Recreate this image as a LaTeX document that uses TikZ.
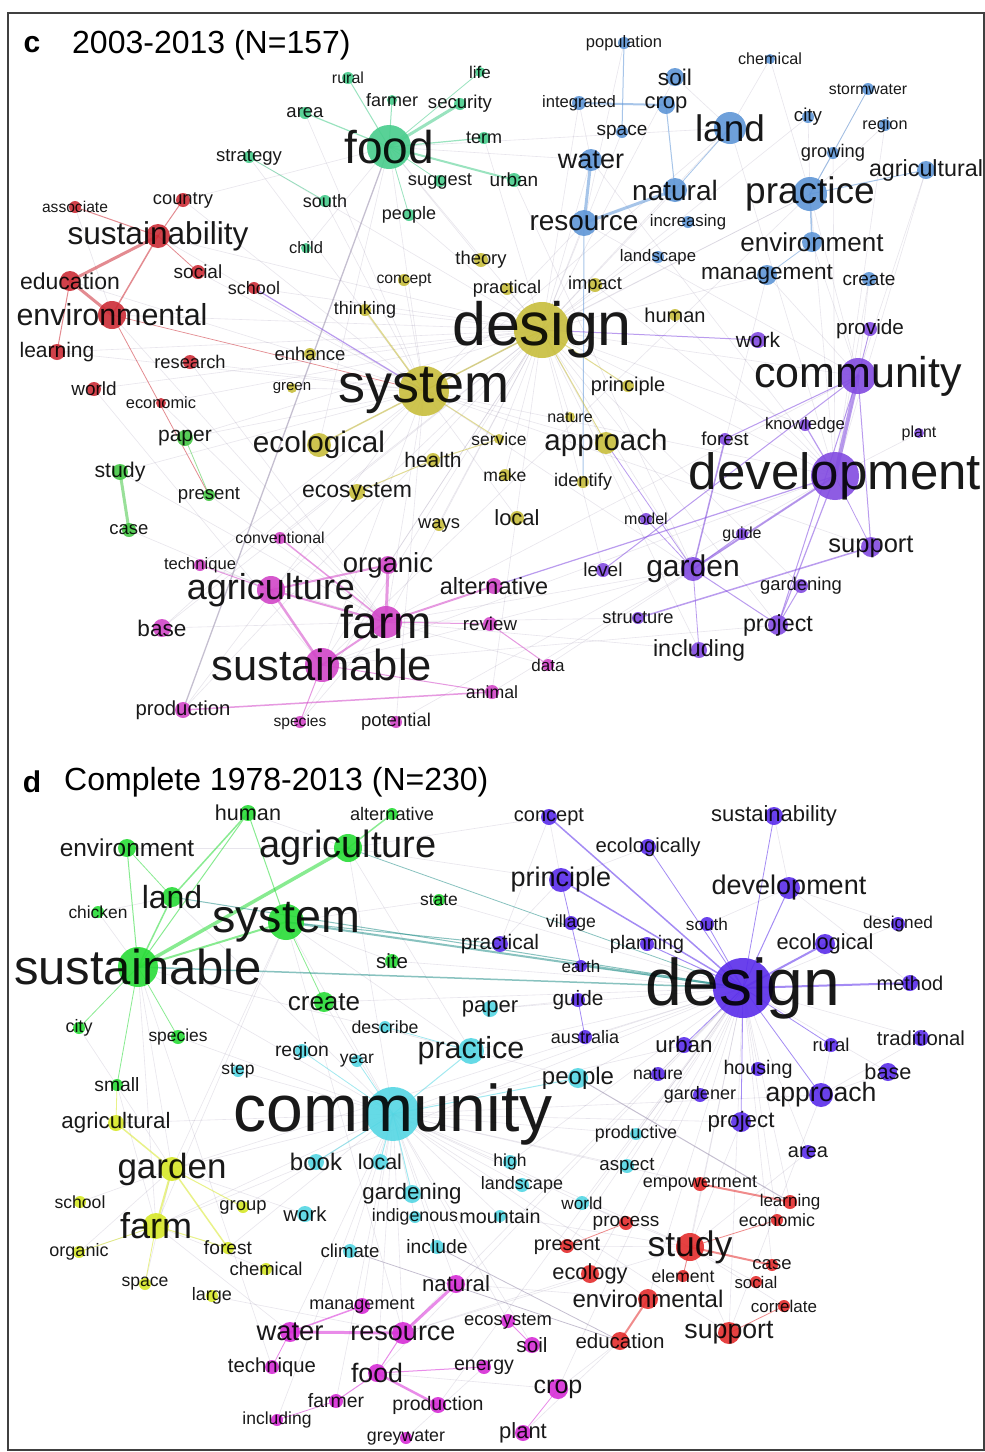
\documentclass[tikz,border=0pt]{standalone}
\usepackage{fontspec}
\setmainfont{Liberation Sans}
\pgfdeclarelayer{bg}
\pgfsetlayers{bg,main}
\definecolor{kTG}{RGB}{72,205,140}
\definecolor{kTR}{RGB}{205,45,55}
\definecolor{kTL}{RGB}{70,200,70}
\definecolor{kTY}{RGB}{200,190,60}
\definecolor{kTM}{RGB}{210,70,200}
\definecolor{kTB}{RGB}{95,150,215}
\definecolor{kTP}{RGB}{130,75,225}
\definecolor{kBG}{RGB}{40,220,55}
\definecolor{kBL}{RGB}{215,232,40}
\definecolor{kBC}{RGB}{85,215,228}
\definecolor{kBV}{RGB}{90,45,235}
\definecolor{kBR}{RGB}{228,45,45}
\definecolor{kBM}{RGB}{215,45,215}
\definecolor{kTeal}{RGB}{40,145,140}
\definecolor{kEdge}{RGB}{150,140,170}
\tikzset{
 dot/.style={circle,inner sep=0pt,draw=none,fill opacity=0.9},
 lbl/.style={inner sep=0pt,text=black,text opacity=0.9},
 edge/.style={opacity=0.55,line cap=round},
 faint/.style={draw=kEdge,opacity=0.22,line width=0.6pt},
 frame/.style={draw=black!75,line width=1.6pt},
 ttl/.style={inner sep=0pt,text=black}
}
\newcommand\wrd[7]{\node[dot,fill=#5,minimum size={2*#6pt}] (#1) at (#2,#3) {};\node[lbl,font=\fontsize{#4}{#4}\selectfont] (#1-t) at (#2,#3) {#7};}
\newcommand\ed[4]{\draw[edge,draw=#3,line width=#4pt] (#1.center) -- (#2.center);}
\begin{document}
\begin{tikzpicture}[x=1pt,y=-1pt]
\useasboundingbox (0,0) rectangle (985,1452);
\begin{pgfonlayer}{bg}
\fill[white] (0,0) rectangle (985,1452);
\end{pgfonlayer}
\draw[frame] (8,13) rectangle (984,1450);
% ---------- panel c ----------
\node[ttl,font=\bfseries\fontsize{30}{30}\selectfont] (clet) at (32,45) {c};
\node[ttl,anchor=west,font=\fontsize{32}{32}\selectfont] (ctitle) at (72,45) {2003-2013 (N=157)};
% green
\wrd{crural}{348}{78}{16}{kTG}{6}{rural}
\wrd{clife}{480}{72}{17}{kTG}{5}{life}
\wrd{cfarmer}{392}{100}{18}{kTG}{5}{farmer}
\wrd{csecurity}{460}{104}{18.6}{kTG}{6}{security}
\wrd{carea}{305}{113}{18.5}{kTG}{6}{area}
\wrd{cfood}{389}{147}{46}{kTG}{22}{food}
\wrd{cterm}{484}{138}{18}{kTG}{6}{term}
\wrd{cstrategy}{249}{157}{18.5}{kTG}{6}{strategy}
\wrd{csuggest}{440}{181}{18.3}{kTG}{6}{suggest}
\wrd{curban}{514}{180}{19}{kTG}{7}{urban}
\wrd{csouth}{325}{201}{18}{kTG}{6}{south}
\wrd{cpeople}{409}{215}{18}{kTG}{6}{people}
\wrd{cchild}{306}{248}{16.5}{kTG}{5}{child}
% red
\wrd{cassociate}{75}{207}{15.6}{kTR}{6}{associate}
\wrd{ccountry}{183}{200}{18.3}{kTR}{7}{country}
\wrd{csustainability}{158}{236}{31.6}{kTR}{12}{sustainability}
\wrd{csocial}{198}{272}{19}{kTR}{7}{social}
\wrd{cschool}{254}{288}{18}{kTR}{6}{school}
\wrd{ceducation}{70}{281}{23}{kTR}{10}{education}
\wrd{cenvironmental}{112}{315}{30.4}{kTR}{14}{environmental}
\wrd{clearning}{57}{352}{21}{kTR}{8}{learning}
\wrd{cresearch}{190}{362}{18.3}{kTR}{7}{research}
\wrd{cworld}{94}{389}{19}{kTR}{7}{world}
\wrd{ceconomic}{161}{403}{16.4}{kTR}{5}{economic}
% light green
\wrd{cpaper}{185}{438}{21}{kTL}{8}{paper}
\wrd{cstudy}{120}{472}{21.3}{kTL}{8}{study}
\wrd{cpresent}{209}{495}{18.6}{kTL}{6}{present}
\wrd{ccase}{129}{530}{18.5}{kTL}{7}{case}
% yellow
\wrd{ctheory}{481}{260}{18.4}{kTY}{7}{theory}
\wrd{cconcept}{404}{280}{15.7}{kTY}{6}{concept}
\wrd{cpractical}{507}{289}{18.3}{kTY}{6}{practical}
\wrd{cimpact}{595}{285}{18.3}{kTY}{7}{impact}
\wrd{cthinking}{365}{310}{18}{kTY}{6}{thinking}
\wrd{cdesign}{542}{330}{61}{kTY}{28}{design}
\wrd{chuman}{675}{315}{20}{kTY}{6}{human}
\wrd{cenhance}{310}{354}{18.5}{kTY}{6}{enhance}
\wrd{cgreen}{292}{388}{15}{kTY}{5}{green}
\wrd{csystem}{424}{391}{54}{kTY}{25}{system}
\wrd{cprinciple}{628}{386}{20}{kTY}{6}{principle}
\wrd{cnature}{570}{417}{16}{kTY}{5}{nature}
\wrd{cservice}{499}{439}{17.4}{kTY}{5}{service}
\wrd{cecological}{319}{445}{29.7}{kTY}{12}{ecological}
\wrd{capproach}{606}{443}{29.5}{kTY}{11}{approach}
\wrd{chealth}{433}{460}{21}{kTY}{7}{health}
\wrd{cmake}{505}{475}{17.6}{kTY}{6}{make}
\wrd{cidentify}{583}{482}{18.3}{kTY}{6}{identify}
\wrd{cecosystem}{357}{492}{23}{kTY}{8}{ecosystem}
\wrd{cways}{439}{525}{18.4}{kTY}{6}{ways}
\wrd{clocal}{517}{518}{22}{kTY}{7}{local}
% magenta
\wrd{cconventional}{280}{538}{15.9}{kTM}{6}{conventional}
\wrd{ctechnique}{200}{565}{16.6}{kTM}{6}{technique}
\wrd{corganic}{388}{565}{27.5}{kTM}{9}{organic}
\wrd{cagriculture}{271}{590}{36}{kTM}{14}{agriculture}
\wrd{calternative}{494}{586}{23.5}{kTM}{8}{alternative}
\wrd{cbase}{162}{628}{22.6}{kTM}{9}{base}
\wrd{cfarm}{386}{622}{46}{kTM}{16}{farm}
\wrd{creview}{490}{624}{18.7}{kTM}{7}{review}
\wrd{csustainable}{322}{665}{43.5}{kTM}{17}{sustainable}
\wrd{cdata}{548}{665}{17}{kTM}{6}{data}
\wrd{canimal}{492}{692}{17.7}{kTM}{7}{animal}
\wrd{cproduction}{183}{710}{20.3}{kTM}{8}{production}
\wrd{cspecies}{300}{722}{15.6}{kTM}{6}{species}
\wrd{cpotential}{396}{722}{18.5}{kTM}{6}{potential}
% blue
\wrd{cpopulation}{624}{43}{16.5}{kTB}{6}{population}
\wrd{cchemical}{770}{59}{16.2}{kTB}{5}{chemical}
\wrd{csoil}{675}{77}{22.7}{kTB}{9}{soil}
\wrd{cstormwater}{868}{89}{15.8}{kTB}{6}{stormwater}
\wrd{cintegrated}{579}{103}{16.6}{kTB}{7}{integrated}
\wrd{ccrop}{666}{105}{22}{kTB}{9}{crop}
\wrd{ccity}{808}{117}{18.7}{kTB}{6}{city}
\wrd{cregion}{885}{125}{16.2}{kTB}{6}{region}
\wrd{cland}{730}{128}{37}{kTB}{16}{land}
\wrd{cspace}{622}{132}{19}{kTB}{6}{space}
\wrd{cwater}{591}{160}{27}{kTB}{11}{water}
\wrd{cgrowing}{833}{153}{18.3}{kTB}{6}{growing}
\wrd{cagricultural}{926}{170}{23.3}{kTB}{9}{agricultural}
\wrd{cnatural}{675}{190}{28}{kTB}{12}{natural}
\wrd{cpractice}{810}{194}{37}{kTB}{17}{practice}
\wrd{cresource}{584}{223}{28}{kTB}{13}{resource}
\wrd{cincreasing}{688}{222}{16.7}{kTB}{6}{increasing}
\wrd{cenvironment}{812}{242}{26}{kTB}{10}{environment}
\wrd{clandscape}{658}{257}{16.7}{kTB}{6}{landscape}
\wrd{cmanagement}{767}{275}{22.6}{kTB}{10}{management}
\wrd{ccreate}{869}{279}{19}{kTB}{7}{create}
% purple
\wrd{cprovide}{870}{329}{20.7}{kTP}{7}{provide}
\wrd{cwork}{758}{340}{21}{kTP}{8}{work}
\wrd{ccommunity}{858}{376}{43}{kTP}{18}{community}
\wrd{cknowledge}{805}{425}{16.7}{kTP}{6}{knowledge}
\wrd{cforest}{725}{439}{18.8}{kTP}{6}{forest}
\wrd{cplant}{919}{433}{16}{kTP}{5}{plant}
\wrd{cdevelopment}{835}{476}{51}{kTP}{24}{development}
\wrd{cmodel}{646}{519}{16}{kTP}{6}{model}
\wrd{cguide}{742}{534}{16}{kTP}{6}{guide}
\wrd{csupport}{871}{547}{25.5}{kTP}{10}{support}
\wrd{clevel}{603}{570}{19}{kTP}{7}{level}
\wrd{cgarden}{693}{569}{30}{kTP}{12}{garden}
\wrd{cgardening}{801}{586}{18.4}{kTP}{7}{gardening}
\wrd{cstructure}{638}{618}{18.3}{kTP}{6}{structure}
\wrd{cproject}{778}{625}{23.3}{kTP}{10}{project}
\wrd{cincluding}{699}{650}{23.3}{kTP}{8}{including}
% ---------- panel d ----------
\node[ttl,font=\bfseries\fontsize{30}{30}\selectfont] (dlet) at (32,782) {d};
\node[ttl,anchor=west,font=\fontsize{32}{32}\selectfont] (dtitle) at (64,782) {Complete 1978-2013 (N=230)};
% green
\wrd{dhuman}{248}{813}{21.6}{kBG}{8}{human}
\wrd{dalternative}{392}{814}{18.2}{kBG}{6}{alternative}
\wrd{denvironment}{127}{848}{24.4}{kBG}{9}{environment}
\wrd{dagriculture}{348}{848}{38}{kBG}{14}{agriculture}
\wrd{dland}{172}{897}{32}{kBG}{10}{land}
\wrd{dchicken}{98}{912}{17.4}{kBG}{6}{chicken}
\wrd{dstate}{439}{900}{17.5}{kBG}{6}{state}
\wrd{dsystem}{286}{922}{46.7}{kBG}{18}{system}
\wrd{dsustainable}{138}{967}{49}{kBG}{20}{sustainable}
\wrd{dsite}{392}{961}{20.5}{kBG}{7}{site}
\wrd{dcreate}{324}{1002}{26}{kBG}{10}{create}
\wrd{dcity}{79}{1028}{18}{kBG}{6}{city}
\wrd{dspecies}{178}{1037}{17.4}{kBG}{7}{species}
\wrd{dsmall}{117}{1085}{19.3}{kBG}{6}{small}
% lime
\wrd{dagricultural}{116}{1123}{22.3}{kBL}{8}{agricultural}
\wrd{dgarden}{172}{1169}{35}{kBL}{12}{garden}
\wrd{dschool}{80}{1202}{17.6}{kBL}{6}{school}
\wrd{dgroup}{243}{1207}{18.4}{kBL}{6}{group}
\wrd{dfarm}{156}{1226}{36}{kBL}{13}{farm}
\wrd{dorganic}{79}{1252}{18}{kBL}{6}{organic}
\wrd{dforest}{228}{1248}{19.2}{kBL}{6}{forest}
\wrd{dchemical}{266}{1269}{18.5}{kBL}{6}{chemical}
\wrd{dspace}{145}{1284}{17.6}{kBL}{6}{space}
\wrd{dlarge}{212}{1296}{18}{kBL}{6}{large}
% cyan
\wrd{dpaper}{490}{1009}{22}{kBC}{8}{paper}
\wrd{ddescribe}{385}{1027}{17.7}{kBC}{6}{describe}
\wrd{dregion}{302}{1051}{19.4}{kBC}{7}{region}
\wrd{dyear}{357}{1061}{17.5}{kBC}{6}{year}
\wrd{dpractice}{471}{1051}{30.5}{kBC}{13}{practice}
\wrd{dpeople}{578}{1078}{24}{kBC}{10}{people}
\wrd{dstep}{238}{1071}{17.5}{kBC}{6}{step}
\wrd{dcommunity}{393}{1114}{66}{kBC}{27}{community}
\wrd{dproductive}{636}{1134}{17.8}{kBC}{6}{productive}
\wrd{dbook}{316}{1162}{24}{kBC}{8}{book}
\wrd{dlocal}{380}{1162}{21.4}{kBC}{8}{local}
\wrd{dhigh}{510}{1162}{17.5}{kBC}{7}{high}
\wrd{daspect}{627}{1166}{18.7}{kBC}{7}{aspect}
\wrd{dlandscape}{522}{1185}{18}{kBC}{7}{landscape}
\wrd{dgardening}{412}{1194}{22.3}{kBC}{9}{gardening}
\wrd{dworld}{582}{1203}{17.2}{kBC}{7}{world}
\wrd{dwork}{305}{1214}{20.4}{kBC}{8}{work}
\wrd{dindigenous}{415}{1217}{17.8}{kBC}{6}{indigenous}
\wrd{dmountain}{500}{1216}{19.7}{kBC}{6}{mountain}
\wrd{dclimate}{350}{1251}{18.6}{kBC}{7}{climate}
\wrd{dinclude}{437}{1247}{19.3}{kBC}{7}{include}
% violet
\wrd{dconcept}{549}{817}{20}{kBV}{8}{concept}
\wrd{dsustainability}{774}{816}{22}{kBV}{9}{sustainability}
\wrd{decologically}{648}{847}{20.3}{kBV}{8}{ecologically}
\wrd{dprinciple}{561}{880}{27}{kBV}{12}{principle}
\wrd{ddevelopment}{789}{888}{27}{kBV}{11}{development}
\wrd{dvillage}{571}{923}{17.6}{kBV}{7}{village}
\wrd{dsouth}{707}{924}{17.2}{kBV}{7}{south}
\wrd{ddesigned}{898}{924}{17.2}{kBV}{7}{designed}
\wrd{dpractical}{500}{944}{21}{kBV}{8}{practical}
\wrd{dplanning}{647}{944}{19.6}{kBV}{7}{planning}
\wrd{decological}{825}{944}{21.8}{kBV}{10}{ecological}
\wrd{dearth}{581}{966}{17}{kBV}{6}{earth}
\wrd{ddesign}{743}{988}{66}{kBV}{30}{design}
\wrd{dmethod}{910}{983}{20}{kBV}{8}{method}
\wrd{dguide}{578}{1000}{20.8}{kBV}{7}{guide}
\wrd{daustralia}{585}{1037}{18}{kBV}{7}{australia}
\wrd{durban}{684}{1045}{22.3}{kBV}{8}{urban}
\wrd{drural}{831}{1045}{18.5}{kBV}{7}{rural}
\wrd{dtraditional}{921}{1038}{20.3}{kBV}{8}{traditional}
\wrd{dhousing}{758}{1069}{19.7}{kBV}{7}{housing}
\wrd{dnature}{658}{1074}{17.6}{kBV}{7}{nature}
\wrd{dbase}{888}{1072}{21.7}{kBV}{9}{base}
\wrd{dgardener}{700}{1095}{18}{kBV}{7}{gardener}
\wrd{dapproach}{821}{1095}{26.6}{kBV}{12}{approach}
\wrd{dproject}{741}{1122}{22.3}{kBV}{10}{project}
\wrd{darea}{808}{1152}{20}{kBV}{7}{area}
% red
\wrd{dempowerment}{700}{1184}{18}{kBR}{7}{empowerment}
\wrd{dlearning}{790}{1202}{17}{kBR}{7}{learning}
\wrd{deconomic}{777}{1220}{17.8}{kBR}{6}{economic}
\wrd{dprocess}{626}{1223}{19}{kBR}{7}{process}
\wrd{dstudy}{690}{1247}{35.5}{kBR}{14}{study}
\wrd{dpresent}{567}{1246}{19.8}{kBR}{7}{present}
\wrd{dcase}{772}{1265}{18.5}{kBR}{6}{case}
\wrd{delement}{683}{1276}{17.7}{kBR}{6}{element}
\wrd{dsocial}{756}{1282}{16.8}{kBR}{6}{social}
\wrd{decology}{590}{1274}{21.8}{kBR}{9}{ecology}
\wrd{denvironmental}{648}{1299}{24}{kBR}{10}{environmental}
\wrd{dcorrelate}{784}{1306}{17}{kBR}{6}{correlate}
\wrd{deducation}{620}{1341}{20.5}{kBR}{9}{education}
\wrd{dsupport}{729}{1333}{26.7}{kBR}{11}{support}
% magenta
\wrd{dnatural}{456}{1284}{22.2}{kBM}{9}{natural}
\wrd{dmanagement}{362}{1306}{18}{kBM}{8}{management}
\wrd{decosystem}{508}{1321}{18.4}{kBM}{7}{ecosystem}
\wrd{dwater}{290}{1332}{27.4}{kBM}{10}{water}
\wrd{dresource}{403}{1333}{27}{kBM}{11}{resource}
\wrd{dsoil}{532}{1345}{20.7}{kBM}{8}{soil}
\wrd{dtechnique}{272}{1367}{20.3}{kBM}{7}{technique}
\wrd{dfood}{377}{1373}{26.7}{kBM}{9}{food}
\wrd{denergy}{484}{1367}{19.6}{kBM}{7}{energy}
\wrd{dcrop}{558}{1389}{25}{kBM}{10}{crop}
\wrd{dfarmer}{336}{1401}{19.4}{kBM}{7}{farmer}
\wrd{dproduction}{438}{1405}{19.5}{kBM}{8}{production}
\wrd{dincluding}{277}{1420}{17.5}{kBM}{6}{including}
\wrd{dgreywater}{406}{1438}{17.8}{kBM}{6}{greywater}
\wrd{dplant}{523}{1433}{22}{kBM}{8}{plant}
% ---------- edges ----------
\begin{pgfonlayer}{bg}
\foreach \a/\b in {cstrategy/cdesign,cfood/cdesign,cfood/csystem,cfood/cecological,cfood/ctheory,cfood/cchild,ccountry/cfood,csustainability/cdesign,csustainability/csystem,cenvironmental/cdesign,clearning/cdesign,cresearch/csystem,cworld/csustainable,ceconomic/cfarm,cbase/cfarm,cbase/cdesign,cproduction/cdesign,cagriculture/cdesign,csustainable/cdesign,csustainable/csystem,cfarm/csystem,cfarm/cdesign,corganic/cdesign,cdesign/ccommunity,cdesign/cdevelopment,cdesign/cpractice,cdesign/cland,cdesign/cmanagement,csystem/cpractice,csystem/cdevelopment,csystem/cland,csystem/cresource,cdesign/cresource,cdesign/cwater,ccommunity/cpractice,cdevelopment/cpractice,cdevelopment/cagricultural,ccommunity/cenvironment,ccommunity/cmanagement,cgarden/cdesign,cgarden/csystem,cgarden/csustainable,cgarden/cfarm,cincluding/cfarm,cproject/csustainable,cstructure/cfarm,clocal/csystem,cways/cdesign,cecological/cdesign,capproach/csystem,cdevelopment/csustainable,ccommunity/cfarm,cland/cfood,cwater/cfood,curban/cgarden,cdesign/cknowledge,cenhance/cdesign,cthinking/cdesign,cpotential/csystem,cspecies/cdesign,cdata/cdevelopment,canimal/cgarden,cchemical/cpractice,ccity/cdesign,cregion/cdevelopment,csoil/cdesign,cpopulation/cresource,cimpact/cdevelopment,chuman/cdevelopment,cpaper/cdesign,cstudy/csystem,ccase/cagriculture,cpresent/cfarm,cschool/cdesign,csocial/csystem,ceducation/csystem,cassociate/cenvironmental,carea/csystem,cterm/cdesign,cpeople/cdesign,csouth/csystem,cconcept/csystem,cpractical/cdesign,cgreen/csystem,cmake/cdesign,cnature/cdesign,cservice/cdesign,cprovide/cdevelopment,cplant/cdevelopment,ccreate/cdevelopment,cgrowing/cdevelopment,cstormwater/cpractice,clandscape/cdesign,cincreasing/cdesign,cintegrated/cdesign,cspace/cdesign,cgardening/cdesign,cmodel/cdesign,clevel/cdesign,cconventional/cdesign,ctechnique/csystem,cworld/cdesign,cresearch/cfarm,clearning/csystem,ceconomic/cdesign,cpaper/csystem,cstudy/cfarm,cenvironmental/cfarm,ccountry/csystem,cstrategy/csystem,cland/cdevelopment,cwater/cdevelopment,cresource/ccommunity,cnatural/cdesign,cpractice/csustainable,cmanagement/cgarden,ccreate/ccommunity,cagricultural/ccommunity,cregion/cpractice,ccity/cpractice,csoil/cland,cchemical/cland,cintegrated/cwater,csupport/csystem,cproject/cdesign,cincluding/cdesign,cpotential/cdevelopment,canimal/cdesign,cdata/cfarm,cspecies/cfarm,cproduction/csystem,cbase/csystem,ctechnique/cfarm}
  \draw[faint] (\a.center) -- (\b.center);
\foreach \a/\b in {dcommunity/ddesign,dcommunity/dsustainable,dcommunity/dsystem,dcommunity/dagriculture,dcommunity/dgarden,dcommunity/dfarm,dcommunity/dstudy,dcommunity/dsupport,dcommunity/dapproach,dcommunity/dproject,dcommunity/dresource,dcommunity/dwater,dcommunity/dfood,dcommunity/dnatural,dcommunity/denvironmental,dcommunity/durban,dcommunity/dcreate,dcommunity/dland,ddesign/dstudy,ddesign/denvironmental,ddesign/dsupport,ddesign/dresource,ddesign/dpractice,ddesign/dpeople,ddesign/dpaper,ddesign/dcreate,ddesign/dgarden,ddesign/dfarm,ddesign/dcrop,ddesign/dfood,dsystem/dgarden,dsystem/dfarm,dsystem/dpractice,dsystem/dresource,dsustainable/dfarm,dsustainable/dgarden,dsustainable/dpractice,dagriculture/dpractice,dagriculture/dprinciple,dagriculture/dconcept,dprinciple/dpractical,dconcept/dpractical,dpaper/dguide,dpractice/dpeople,dstudy/dsupport,dstudy/dpresent,dstudy/dproject,dstudy/darea,dapproach/dsupport,dresource/dstudy,dresource/decology,dnatural/denvironmental,dcrop/deducation,dplant/deducation,dgreywater/denergy,dfood/dcrop,dwater/dfarm,dgarden/dwork,dfarm/dchemical,dlarge/dresource,dchicken/dsustainable,dstate/dsystem,dsite/dsystem,dstate/ddesign,dsite/ddesign,ddesigned/ddesign,dtraditional/ddesign,dbase/ddesign,darea/ddesign,dhousing/ddesign,dnature/ddesign,dgardener/ddesign,daustralia/ddesign,dhigh/ddesign,daspect/ddesign,dproductive/ddesign,dworld/dstudy,dmountain/dstudy,dindigenous/dcommunity,dlandscape/dcommunity,dstep/dcommunity,dschool/dgarden,dorganic/dfarm,dempowerment/dcommunity,dprocess/dcommunity,decosystem/dcommunity,dsoil/dcommunity,dmanagement/dcommunity,dtechnique/dsustainable,dincluding/dcommunity,dfarmer/dcommunity,dproduction/ddesign,dcorrelate/dstudy,dsocial/dstudy,dlearning/ddesign,deconomic/ddesign,denvironment/dagriculture,dhuman/dagriculture,dchicken/dland,dcity/dgarden,dspecies/dcommunity,dsmall/dfarm,dagricultural/dcommunity,dgroup/dcommunity,dforest/dcommunity,dspace/dgarden,dorganic/dgarden,dclimate/dcommunity,dinclude/dcommunity,dmountain/dcommunity,dhigh/dcommunity,daspect/dcommunity,dproductive/dcommunity,dworld/ddesign,dpresent/ddesign,decology/ddesign,delement/ddesign,dcase/ddesign,dsustainability/ddevelopment,decologically/dprinciple,dconcept/dprinciple,dsouth/ddevelopment,ddesigned/ddevelopment,dmethod/ddevelopment,dtraditional/dapproach,dbase/dapproach,drural/dapproach}
  \draw[faint] (\a.center) -- (\b.center);
% panel c strong edges
\ed{cfood}{csecurity}{kTG}{3}
\ed{cfood}{curban}{kTG}{2}
\ed{cfood}{carea}{kTG}{1.2}
\ed{cfood}{crural}{kTG}{1}
\ed{cfood}{cfarmer}{kTG}{1}
\ed{cfood}{cterm}{kTG}{1.2}
\ed{cfood}{clife}{kTG}{0.8}
\ed{cfood}{csuggest}{kTG}{0.8}
\ed{cfood}{cpeople}{kTG}{0.8}
\ed{cstrategy}{csouth}{kTG}{0.8}
\ed{cfood}{cproduction}{kEdge}{1.3}
\ed{csustainability}{ceducation}{kTR}{3}
\ed{ceducation}{cenvironmental}{kTR}{3}
\ed{csustainability}{cenvironmental}{kTR}{1.5}
\ed{csustainability}{cassociate}{kTR}{1}
\ed{csustainability}{ccountry}{kTR}{1}
\ed{csustainability}{csocial}{kTR}{0.8}
\ed{ceducation}{clearning}{kTR}{1}
\ed{cenvironmental}{cpresent}{kTR}{0.8}
\ed{cenvironmental}{csystem}{kTR}{0.7}
\ed{cschool}{csystem}{kTP}{1.2}
\ed{cstudy}{ccase}{kTL}{3}
\ed{cpaper}{cpresent}{kTL}{0.8}
\ed{cwater}{cresource}{kTB}{3}
\ed{cresource}{cnatural}{kTB}{3}
\ed{cintegrated}{ccrop}{kTB}{2}
\ed{cpopulation}{cspace}{kTB}{1}
\ed{ccrop}{cnatural}{kTB}{1}
\ed{cland}{cnatural}{kTB}{0.8}
\ed{cpractice}{cenvironment}{kTB}{1.5}
\ed{cpractice}{cagricultural}{kTB}{1}
\ed{cpractice}{cgrowing}{kTB}{1}
\ed{cstormwater}{cgrowing}{kTB}{0.8}
\ed{cresource}{cidentify}{kTB}{1}
\ed{cmanagement}{cenvironment}{kTB}{0.8}
\ed{csystem}{cthinking}{kTY}{1.5}
\ed{csystem}{cecological}{kTY}{1.5}
\ed{csystem}{cdesign}{kTY}{1.5}
\ed{cdesign}{capproach}{kTY}{1}
\ed{cdesign}{cprinciple}{kTY}{1}
\ed{cecosystem}{chealth}{kTY}{1}
\ed{chealth}{cservice}{kTY}{1}
\ed{csystem}{cservice}{kTY}{1}
\ed{cdesign}{cwork}{kTP}{1}
\ed{cagriculture}{cfarm}{kTM}{2}
\ed{cagriculture}{csustainable}{kTM}{2.5}
\ed{cfarm}{corganic}{kTM}{3}
\ed{cfarm}{csustainable}{kTM}{2}
\ed{cagriculture}{corganic}{kTM}{2}
\ed{cconventional}{cfarm}{kTM}{1.5}
\ed{cproduction}{canimal}{kTM}{1.5}
\ed{cagriculture}{ctechnique}{kTM}{1}
\ed{cfarm}{calternative}{kTM}{2}
\ed{cfarm}{creview}{kTM}{1}
\ed{cspecies}{csustainable}{kTM}{1}
\ed{csustainable}{canimal}{kTM}{1}
\ed{creview}{cdata}{kTM}{1}
\ed{ccommunity}{cdevelopment}{kTP}{4}
\ed{cgarden}{cdevelopment}{kTP}{2}
\ed{cgarden}{cforest}{kTP}{1.5}
\ed{cgarden}{cguide}{kTP}{1}
\ed{cgarden}{cmodel}{kTP}{0.8}
\ed{cgarden}{cproject}{kTP}{1}
\ed{cdevelopment}{cproject}{kTP}{1.2}
\ed{ccommunity}{cproject}{kTP}{1}
\ed{csupport}{cstructure}{kTP}{1.5}
\ed{calternative}{cdevelopment}{kTP}{1.2}
\ed{clevel}{ccommunity}{kTP}{1}
\ed{cforest}{ccommunity}{kTP}{1}
\ed{cknowledge}{cdevelopment}{kTP}{1.2}
\ed{ccommunity}{csupport}{kTP}{1}
\ed{cdevelopment}{csupport}{kTP}{0.8}
\ed{cgardening}{cproject}{kTP}{1}
\ed{cprovide}{ccommunity}{kTP}{0.8}
\ed{cgarden}{cincluding}{kTP}{0.8}
\ed{capproach}{cgarden}{kTP}{0.8}
% panel d strong edges
\ed{dsustainable}{dagriculture}{kBG}{3.5}
\ed{dsustainable}{dsystem}{kBG}{2}
\ed{dsustainable}{dland}{kBG}{1.5}
\ed{dland}{dhuman}{kBG}{1.5}
\ed{dhuman}{dsustainable}{kBG}{1}
\ed{dhuman}{dsystem}{kBG}{1}
\ed{dagriculture}{dalternative}{kBG}{1.5}
\ed{denvironment}{dsustainable}{kBG}{1}
\ed{denvironment}{dland}{kBG}{0.8}
\ed{dsustainable}{dcity}{kBG}{0.8}
\ed{dsustainable}{dsmall}{kBG}{0.8}
\ed{dsustainable}{dspecies}{kBG}{0.8}
\ed{dsystem}{dcreate}{kBG}{0.8}
\ed{dsystem}{ddesign}{kTeal}{2}
\ed{dsustainable}{ddesign}{kTeal}{1.5}
\ed{dland}{ddesign}{kTeal}{1}
\ed{dsystem}{dpractical}{kTeal}{1}
\ed{dagriculture}{ddesign}{kTeal}{0.8}
\ed{ddesign}{dearth}{kTeal}{1}
\ed{ddesign}{dmethod}{kBV}{2}
\ed{ddesign}{dprinciple}{kBV}{1.5}
\ed{ddesign}{dconcept}{kBV}{1.5}
\ed{ddesign}{decological}{kBV}{2}
\ed{ddesign}{ddevelopment}{kBV}{1}
\ed{ddesign}{dplanning}{kBV}{1}
\ed{ddesign}{dsustainability}{kBV}{0.8}
\ed{ddesign}{decologically}{kBV}{0.8}
\ed{ddesign}{dsouth}{kBV}{0.8}
\ed{ddesign}{durban}{kBV}{0.8}
\ed{ddesign}{drural}{kBV}{0.8}
\ed{ddesign}{dproject}{kBV}{0.8}
\ed{ddesign}{dapproach}{kBV}{0.8}
\ed{dprinciple}{dvillage}{kBV}{0.8}
\ed{dvillage}{dearth}{kBV}{0.8}
\ed{dguide}{daustralia}{kBV}{0.8}
\ed{dgarden}{dfarm}{kBL}{2}
\ed{dgarden}{dagricultural}{kBL}{1.5}
\ed{dagricultural}{dsmall}{kBL}{0.8}
\ed{dfarm}{dforest}{kBL}{1}
\ed{dgarden}{dgroup}{kBL}{1}
\ed{dgarden}{dforest}{kBL}{1.5}
\ed{dfarm}{dorganic}{kBL}{0.8}
\ed{dfarm}{dspace}{kBL}{0.8}
\ed{dwater}{dresource}{kBM}{3}
\ed{dresource}{dnatural}{kBM}{3}
\ed{dfood}{dproduction}{kBM}{2.5}
\ed{dwater}{dmanagement}{kBM}{1.5}
\ed{dfood}{denergy}{kBM}{1}
\ed{dfood}{dfarmer}{kBM}{1}
\ed{dfood}{dresource}{kBM}{1}
\ed{dtechnique}{dwater}{kBM}{0.8}
\ed{dfarmer}{dincluding}{kBM}{0.8}
\ed{dcrop}{dplant}{kBM}{0.8}
\ed{dsoil}{decosystem}{kBM}{0.8}
\ed{dstudy}{dcase}{kBR}{2}
\ed{dempowerment}{dlearning}{kBR}{2}
\ed{denvironmental}{deducation}{kBR}{2}
\ed{dstudy}{delement}{kBR}{0.8}
\ed{dstudy}{deconomic}{kBR}{0.8}
\ed{dpresent}{dprocess}{kBR}{0.8}
\ed{dsupport}{dcorrelate}{kBR}{0.8}
\ed{dcommunity}{dpractice}{kBC}{1}
\ed{dcommunity}{dbook}{kBC}{1}
\ed{dcommunity}{dpeople}{kBC}{1}
\ed{dcommunity}{dgardening}{kBC}{1}
\ed{dcommunity}{dlocal}{kBC}{1}
\ed{dcommunity}{dregion}{kBC}{0.8}
\ed{dcommunity}{dyear}{kBC}{0.8}
\ed{dpractice}{ddescribe}{kBC}{0.8}
\ed{dpeople}{dlearning}{kEdge}{1}
\ed{dclimate}{deducation}{kEdge}{0.8}
\ed{dinclude}{deducation}{kEdge}{0.8}
\end{pgfonlayer}
\end{tikzpicture}
\end{document}
